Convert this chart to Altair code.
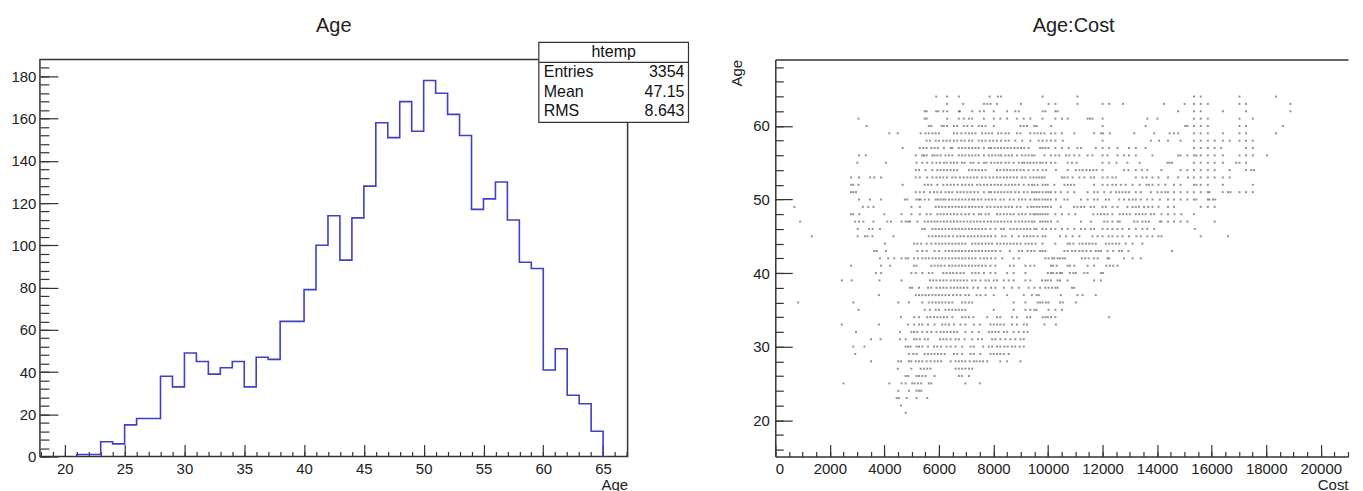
import altair as alt
import pandas as pd

FONT = "Liberation Sans"
TXT = "#222222"
FRAME = "#333333"
LINE = "#3f3fc8"

# ---------------- Histogram of Age ----------------
hist_age = [21, 22, 23, 24, 25, 26, 27, 28, 29, 30, 31, 32, 33, 34, 35, 36, 37, 38, 39, 40, 41, 42,
            43, 44, 45, 46, 47, 48, 49, 50, 51, 52, 53, 54, 55, 56, 57, 58, 59, 60, 61, 62, 63, 64]
hist_count = [1, 1, 7, 6, 15, 18, 18, 38, 33, 49, 45, 39, 42, 45, 33, 47, 46, 64, 64, 79, 100, 114,
              93, 113, 128, 158, 151, 168, 154, 178, 172, 162, 152, 117, 122, 130, 112, 92, 89, 41, 51, 29, 25, 12]
hist_last_edge = 65

stat_title = "htemp"
stat_labels = ["Entries", "Mean", "RMS"]
stat_values = ["3354", "47.15", "8.643"]

hx_major = [20, 25, 30, 35, 40, 45, 50, 55, 60, 65]
hx_minor = list(range(18, 68))
hy_major = [0, 20, 40, 60, 80, 100, 120, 140, 160, 180]
hy_minor = list(range(0, 188, 4))

# ---------------- Scatter Age:Cost ----------------
age64 = [5900, 6300, 6730, 7860, 8160, 8280, 9800, 11080, 15350, 15600, 17020, 18360]
age63 = [6300, 6890, 7650, 7770, 7890, 8130, 9010, 10020, 10270, 11080, 12000, 12240, 12750,
         14250, 15010, 15350, 15600, 15860, 17020, 17260, 18890]
age62 = [5480, 5550, 5900, 5980, 6160, 6300, 6730, 6770, 7220, 7500, 7650, 8010, 8500, 8800, 8930,
         9800, 9900, 10270, 10350, 14770, 15350, 15600, 16410, 17260, 18890]
age61 = [3050, 5480, 5550, 6300, 6730, 6910, 7100, 7220, 7650, 8010, 8250, 8500, 8860, 9110, 9350,
         9800, 10270, 10510, 10720, 11450, 11540, 11630, 12000, 13640, 14010, 15350, 15600, 15860, 17020, 17510]
age60 = [3350, 5630, 5720, 6100, 6180, 6300, 6550, 6670, 6910, 7040, 7220, 7460, 7580, 7710, 8010, 8990,
         9110, 9230, 9500, 9580, 10110, 12000, 13580, 15030, 15110, 15350, 15600, 15860, 17020, 17260, 18610]
age59 = [4180, 4490, 5330, 5510, 5630, 5760, 5880, 6000, 6550, 6670, 6820, 6970, 7100, 7220, 7340, 7580,
         7710, 7830, 7950, 8170, 8290, 8440, 8560, 8860, 8990, 9350, 9500, 9620, 9740, 9870, 10110, 10270,
         10510, 10960, 11690, 11940, 12020, 12270, 13160, 13890, 14460, 14620, 14770, 15350, 15600, 15860,
         16410, 17020, 17260, 18360]
age58 = [5550, 5670, 5880, 6000, 6160, 6280, 6400, 6550, 6670, 6820, 6940, 7100, 7220, 7460, 7580, 7710,
         7860, 7990, 8130, 8280, 8440, 8560, 8800, 9050, 9350, 9660, 9800, 9950, 10110, 10270, 10540, 12000,
         13770, 14070, 14400, 14860, 15350, 15600, 15860, 16110, 16410, 16660, 17020, 17260, 17510]
age57 = [4670, 5300, 5430, 5550, 5720, 5840, 5960, 6180, 6430, 6490, 6730, 6850, 6970, 7100, 7220, 7340,
         7460, 7650, 7830, 7910, 8040, 8160, 8280, 8400, 8520, 8640, 8770, 8890, 9010, 9130, 9290, 9710,
         9800, 9900, 10020, 10270, 10510, 10760, 11080, 11210, 11750, 12000, 12240, 12550, 12970, 13220,
         13580, 15350, 15600, 15860, 16110, 16350, 17260, 17510]
age56 = [3070, 3320, 5150, 5390, 5450, 5550, 5760, 5840, 5940, 6060, 6240, 6370, 6490, 6730, 6850, 6970,
         7100, 7220, 7340, 7460, 7650, 7830, 7950, 8070, 8190, 8280, 8440, 8560, 8680, 8860, 9050, 9170,
         9290, 9410, 9500, 9870, 10110, 10270, 10410, 10660, 10780, 10960, 11150, 11450, 11630, 12000,
         12180, 12550, 12790, 12970, 13220, 13830, 14770, 14860, 15110, 15350, 15440, 15600, 15860, 16110,
         16410, 17020, 17260, 17510, 18030]
age55 = [3010, 4060, 5180, 5390, 5570, 5760, 5910, 6040, 6180, 6280, 6430, 6550, 6670, 6850, 6940, 7160,
         7260, 7460, 7650, 7740, 7910, 8040, 8160, 8280, 8440, 8560, 8740, 8930, 9050, 9130, 9250, 9350,
         9470, 9580, 9710, 9800, 9930, 10110, 10270, 10720, 10880, 11050, 12000, 12240, 12510, 12910,
         13360, 14380, 14460, 14550, 15350, 15600, 15860, 16110, 16410, 16900, 17020, 17260]
age54 = [5150, 5270, 5510, 5760, 5940, 6060, 6180, 6300, 6430, 6550, 6670, 7100, 7220, 7340, 7460, 7580,
         7710, 8130, 8250, 8380, 8500, 8620, 8740, 8860, 8990, 9110, 9290, 9470, 9620, 9800, 9930, 10290,
         10720, 11020, 11150, 11270, 11410, 11540, 11660, 11780, 12000, 12790, 12950, 13220, 13440, 13640,
         14160, 14860, 15110, 15350, 15600, 15860, 16110, 16660, 17260, 17450, 17550]
age53 = [2780, 3070, 3470, 3630, 3880, 5150, 5300, 5570, 5760, 5910, 6040, 6160, 6300, 6490, 6610, 6770,
         6910, 7040, 7160, 7280, 7400, 7580, 7710, 7860, 7990, 8130, 8250, 8380, 8500, 8620, 8740, 8860,
         9050, 9170, 9350, 9470, 9580, 9680, 9780, 9870, 10510, 10600, 10720, 10900, 11150, 11330, 11570,
         11690, 12000, 12180, 12360, 12490, 13220, 13460, 13610, 13830, 14050, 14400, 14770, 15130, 15350,
         15600, 15860, 16110, 16410, 16660]
age52 = [2780, 2860, 3050, 4670, 5480, 5600, 5720, 5940, 6160, 6300, 6430, 6550, 6690, 6850, 6970, 7100,
         7220, 7400, 7520, 7650, 7770, 7910, 8040, 8160, 8280, 8440, 8560, 8680, 8800, 8930, 9110, 9290,
         9410, 9500, 9620, 9800, 9900, 9990, 10230, 10600, 10720, 10840, 10960, 11690, 12000, 12180, 12360,
         12490, 12670, 12850, 13100, 13360, 13610, 13700, 13830, 14050, 14300, 14620, 14860, 15350, 15440,
         15600, 15860, 16410, 17510]
age51 = [2780, 2860, 2960, 5150, 5300, 5450, 5670, 5820, 5940, 6080, 6240, 6370, 6490, 6670, 6790, 6910,
         7040, 7160, 7300, 7430, 7650, 7830, 7910, 8040, 8160, 8280, 8400, 8520, 8640, 8800, 8930, 9110,
         9250, 9410, 9500, 9580, 9680, 9800, 9930, 10020, 10110, 10270, 10470, 10720, 10960, 11450, 11690,
         11820, 12060, 12300, 12490, 12610, 12730, 12850, 12970, 13220, 13400, 13770, 14010, 14160, 14300,
         14400, 14620, 14860, 15110, 15350, 15600, 15860, 15920, 16410, 16600, 16690, 17020, 17260, 17510]
age50 = [3070, 3470, 3880, 4750, 4840, 5180, 5270, 5330, 5480, 5630, 5880, 5960, 6060, 6160, 6240, 6370,
         6490, 6610, 6730, 6850, 6970, 7100, 7220, 7300, 7430, 7550, 7710, 7830, 7950, 8070, 8250, 8380,
         8600, 8740, 8930, 9050, 9170, 9350, 9500, 9580, 9680, 9800, 9900, 9990, 10110, 10290, 10600, 10720,
         11210, 11450, 11690, 11820, 12120, 12240, 12610, 12790, 12970, 13100, 13220, 13400, 13640, 13830,
         14100, 14400, 14620, 14860, 15110, 15350, 15440, 15860, 15920, 16050, 16130]
age49 = [700, 3210, 3410, 3600, 4990, 5300, 5880, 6000, 6120, 6240, 6370, 6490, 6610, 6730, 6850, 6970,
         7100, 7220, 7340, 7460, 7580, 7770, 7890, 8040, 8160, 8280, 8440, 8560, 8680, 8860, 8990, 9250,
         9380, 9470, 9580, 9680, 9800, 9900, 9990, 10110, 10470, 10960, 11080, 11210, 11330, 11570, 11690,
         12000, 12120, 12360, 12550, 12910, 13100, 13220, 13340, 13520, 13680, 13830, 14050, 14400, 14620,
         15600, 15860, 16110]
age48 = [2780, 2860, 3080, 4000, 4630, 4990, 5300, 5550, 5690, 5940, 6060, 6180, 6300, 6430, 6550, 6670,
         6820, 6970, 7100, 7280, 7460, 7550, 7710, 7830, 8130, 8250, 8380, 8500, 8620, 8740, 8930, 9050,
         9170, 9350, 9470, 9540, 9620, 9710, 9800, 9900, 9990, 10270, 10510, 10760, 11000, 11660, 11820,
         11940, 12060, 12180, 12360, 12630, 12750, 12880, 13000, 13220, 13340, 13460, 13580, 13770, 13890,
         14160, 14400, 14640, 14890, 15350]
age47 = [910, 2930, 3070, 3230, 3600, 4110, 4240, 4630, 4780, 4870, 4940, 5210, 5480, 5600, 5720, 5840,
         5940, 6060, 6180, 6300, 6430, 6550, 6670, 6790, 6910, 7040, 7160, 7280, 7400, 7520, 7650, 7790,
         7910, 8040, 8160, 8280, 8400, 8520, 8640, 8800, 8930, 9050, 9170, 9290, 9410, 9500, 9710, 9800,
         9900, 9990, 10110, 10350, 11210, 11570, 12060, 12180, 12360, 12550, 12630, 13160, 13280, 13460,
         13580, 13700, 14100, 14160, 14400, 14620, 14860, 15110, 16110]
age46 = [3020, 3440, 3570, 3840, 5390, 5480, 5760, 5880, 6000, 6120, 6240, 6370, 6490, 6610, 6730, 6850,
         6970, 7100, 7220, 7340, 7460, 7580, 7710, 7890, 8070, 8280, 8380, 8620, 8740, 8860, 8990, 9110,
         9230, 9350, 9500, 9580, 9800, 9930, 10110, 10270, 10510, 10720, 10960, 11210, 11360, 11570, 11690,
         12000, 12180, 12360, 12550, 12730, 12970, 13220, 13460, 13640, 13890, 15380]
age45 = [1340, 3020, 3290, 3380, 3560, 4330, 5630, 5760, 5880, 6000, 6120, 6240, 6370, 6520, 6670, 6790,
         6910, 7060, 7180, 7300, 7430, 7550, 7670, 7790, 7910, 8070, 8320, 8440, 8680, 8930, 9110, 9230,
         9350, 9470, 9620, 9800, 9900, 10440, 10660, 10900, 11150, 11630, 11820, 12000, 12220, 12360, 12550,
         12730, 12970, 13240, 13400, 13640, 13830, 14050, 14160, 15600, 16600]
age44 = [4020, 5090, 5210, 5350, 5550, 5720, 5880, 6000, 6120, 6240, 6370, 6490, 6610, 6730, 6850, 6970,
         7220, 7340, 7460, 7580, 7710, 7830, 7950, 8130, 8250, 8380, 8500, 8620, 8740, 8860, 8990, 9170,
         9290, 9410, 9540, 9800, 10270, 10720, 10800, 10930, 11150, 11270, 11390, 11510, 11630, 11750,
         12120, 12240, 12360, 12490, 12610, 12850, 13100, 13460]
age43 = [3630, 3720, 4060, 5210, 5390, 5550, 5840, 6000, 6240, 6370, 6490, 6610, 6730, 6850, 6970, 7100,
         7220, 7340, 7460, 7580, 7710, 7830, 7950, 8070, 8250, 8600, 8930, 9050, 9250, 9380, 9500, 9710,
         9800, 9900, 10600, 10720, 10880, 11000, 11150, 11270, 11410, 11570, 11750, 11850, 11940, 12180,
         12390, 12610, 12710, 12950, 14550]
age42 = [3840, 4140, 4360, 4630, 4780, 4870, 5090, 5230, 5390, 5510, 5630, 5760, 5880, 6000, 6120, 6240,
         6370, 6490, 6610, 6730, 6850, 6970, 7100, 7220, 7340, 7520, 7650, 7770, 7910, 8070, 8320, 8740,
         8930, 9900, 10020, 10150, 10230, 10350, 10440, 10540, 10630, 11240, 11360, 11490, 11690, 11820,
         12180, 12240, 12790, 13100, 13400]
age41 = [2780, 3880, 4210, 5090, 5180, 5720, 5840, 5960, 6080, 6210, 6370, 6490, 6610, 6730, 6850, 6970,
         7100, 7220, 7340, 7460, 7580, 7710, 7890, 8070, 8600, 8740, 9170, 9350, 9500, 10110, 10190, 10320,
         10720, 10800, 10960, 11450, 11690, 12140, 12270, 12390, 12550]
age40 = [3690, 3880, 4990, 5150, 5390, 5630, 5760, 6160, 6280, 6400, 6520, 6650, 6790, 6910, 7220, 7340,
         7460, 7650, 7890, 8070, 8500, 8740, 9170, 9990, 10110, 10190, 10320, 10440, 10510, 10800, 10930,
         11020, 11330, 11450, 11940, 12020]
age39 = [2440, 2800, 3820, 4630, 5670, 5790, 5910, 6040, 6160, 6280, 6430, 6550, 6670, 6790, 6910, 7040,
         7220, 7340, 7520, 7710, 7830, 8010, 8130, 8380, 8560, 8740, 9170, 9350, 9780, 9900, 9990, 10110,
         10350, 10440, 10720, 11690, 11940]
age38 = [4940, 5020, 5270, 5600, 5720, 5910, 6040, 6160, 6280, 6430, 6550, 6670, 6790, 6910, 7040, 7260,
         7430, 7710, 7910, 8070, 8380, 8680, 8930, 9290, 9500, 9710, 9900, 10020, 10150, 10270, 10350,
         10880, 10960]
age37 = [3800, 5150, 5270, 5390, 5510, 5630, 5760, 5880, 6000, 6120, 6240, 6370, 6520, 6650, 6790, 6970,
         7100, 7380, 7520, 7710, 8010, 8500, 9110, 9410, 9580, 9660, 10470, 11080, 11270, 11750]
age36 = [830, 2860, 4510, 4900, 5390, 5630, 5760, 5880, 6000, 6120, 6240, 6370, 6490, 6850, 6970, 7100,
         7220, 8740, 9170, 9620, 9710, 9800, 9930, 10020, 10440, 10540, 11020]
age35 = [3050, 5480, 5670, 5880, 6000, 6240, 6370, 6490, 6610, 6730, 6850, 6970, 8010, 8740, 9170, 9350,
         9500, 9580, 10020, 10270, 10510]
age34 = [4610, 5090, 5270, 5570, 5690, 5820, 5940, 6060, 6180, 6300, 6490, 6850, 6970, 7100, 7260, 7770,
         8130, 8250, 8680, 8860, 9230, 9350, 9800, 9900, 9990, 10110, 10270, 12240]
age33 = [2440, 3800, 4870, 5090, 5270, 5390, 5600, 5840, 6120, 6240, 6370, 6550, 6790, 6970, 7280, 7500,
         7890, 8010, 8130, 8250, 8380, 8680, 8860, 9110, 9230, 9870, 10290]
age32 = [2960, 4570, 4990, 5090, 5210, 5390, 5570, 5720, 5910, 6060, 6180, 6300, 6430, 6550, 6670, 6970,
         7220, 7460, 7830, 7950, 8070, 8190, 8380, 8500, 8740, 8930, 9110, 9250]
age31 = [3510, 3860, 4570, 4780, 5090, 5180, 5300, 5480, 5600, 6040, 6160, 6280, 6430, 6610, 6730, 6940,
         7220, 7430, 7580, 7950, 8070, 8250, 8440, 8620, 8800, 8990, 9110]
age30 = [2860, 3270, 4780, 4870, 4960, 5180, 5270, 5390, 5600, 5820, 5940, 6080, 6280, 6430, 6610, 6850,
         7160, 7280, 7620, 7830, 7950, 8130, 8250, 8400, 8520, 8680, 8800, 8960, 9110]
age29 = [2930, 4900, 5060, 5180, 5480, 5600, 5720, 5840, 5960, 6080, 6210, 6550, 6670, 6850, 7160, 7280,
         7520, 7890, 8010, 8130, 8250, 8380, 8560]
age28 = [3510, 4510, 4610, 4900, 4990, 5150, 5270, 5390, 5550, 5690, 5840, 5960, 6080, 6430, 6610, 6730,
         6850, 6970, 7130, 7280, 7380, 7500, 7620, 7770, 8250, 8500, 8990]
age27 = [4490, 4990, 5330, 5450, 5570, 5690, 6610, 6730, 6850, 6970, 7100, 7220]
age26 = [4780, 4870, 5180, 5270, 5390, 5510, 5840, 6730, 6850, 7100]
age25 = [2500, 4180, 4630, 4780, 5020, 5110, 5230, 5350, 5630, 5720, 6970, 7500]
age24 = [4510, 4900, 5180, 5270, 5350]
age23 = [4450, 4530, 4820, 5180, 5570]
age22 = [4610]
age21 = [4780]

scatter_rows = [
    (64, age64), (63, age63), (62, age62), (61, age61), (60, age60), (59, age59), (58, age58),
    (57, age57), (56, age56), (55, age55), (54, age54), (53, age53), (52, age52), (51, age51),
    (50, age50), (49, age49), (48, age48), (47, age47), (46, age46), (45, age45), (44, age44),
    (43, age43), (42, age42), (41, age41), (40, age40), (39, age39), (38, age38), (37, age37),
    (36, age36), (35, age35), (34, age34), (33, age33), (32, age32), (31, age31), (30, age30),
    (29, age29), (28, age28), (27, age27), (26, age26), (25, age25), (24, age24), (23, age23),
    (22, age22), (21, age21),
]

sx_major = list(range(0, 20001, 2000))
sx_minor = list(range(0, 21001, 500))
sy_major = [20, 30, 40, 50, 60]
sy_minor = list(range(16, 69, 2))

# ---------------- tables ----------------
step_x = [hist_age[0]] + hist_age + [hist_last_edge]
step_y = [0] + hist_count + [0]
hist_df = pd.DataFrame({"Age": step_x, "Count": step_y, "order": list(range(len(step_x)))})

pts = [(c, a) for a, costs in scatter_rows for c in costs]
scat_df = pd.DataFrame(pts, columns=["Cost", "Age"])

# ---------------- left panel ----------------
hx_scale = alt.Scale(domain=[17.92, 67.05], nice=False, zero=False)
hy_scale = alt.Scale(domain=[0, 188], nice=False, zero=False)

lab_common = dict(labelFont=FONT, labelFontSize=15, labelColor=TXT, ticks=False, grid=False)


def tick_axis(orient, values, size):
    return alt.Axis(orient=orient, values=values, tickSize=size, offset=-size, labels=False,
                    domain=False, grid=False, title=None, tickColor=FRAME, tickWidth=1.2)


h_main = alt.Chart(hist_df).mark_line(interpolate="step-after", color=LINE, strokeWidth=1.6).encode(
    x=alt.X("Age:Q", scale=hx_scale,
            axis=alt.Axis(orient="bottom", values=hx_major, domain=False, labelPadding=5,
                          title="Age", titleFont=FONT, titleFontSize=15, titleFontWeight="normal",
                          titleColor=TXT, titleAnchor="end", titlePadding=1, **lab_common)),
    y=alt.Y("Count:Q", scale=hy_scale,
            axis=alt.Axis(orient="left", values=hy_major, domain=False, labelPadding=4, title=None,
                          **lab_common)),
    order="order:O",
)
h_major = alt.Chart(hist_df).mark_point(opacity=0).encode(
    x=alt.X("Age:Q", scale=hx_scale, axis=tick_axis("bottom", hx_major, 12)),
    y=alt.Y("Count:Q", scale=hy_scale, axis=tick_axis("left", hy_major, 18)),
)
h_minor = alt.Chart(hist_df).mark_point(opacity=0).encode(
    x=alt.X("Age:Q", scale=hx_scale, axis=tick_axis("bottom", hx_minor, 5)),
    y=alt.Y("Count:Q", scale=hy_scale, axis=tick_axis("left", hy_minor, 9)),
)

one = pd.DataFrame({"k": [0]})
box = alt.Chart(one).mark_rect(fill="white", stroke=FRAME, strokeWidth=1.2).encode(
    x=alt.value(500), x2=alt.value(650), y=alt.value(-17), y2=alt.value(63))
box_line = alt.Chart(one).mark_rule(color=FRAME, strokeWidth=1.2).encode(
    x=alt.value(500), x2=alt.value(650), y=alt.value(3))


def txt(s, x, y, align):
    return alt.Chart(one).mark_text(text=s, font=FONT, fontSize=16, color="#111111", align=align,
                                    baseline="alphabetic").encode(x=alt.value(x), y=alt.value(y))


stat_layers = [txt(stat_title, 575, -2, "center")]
for i, (lab, val) in enumerate(zip(stat_labels, stat_values)):
    yy = 18 + 19.5 * i
    stat_layers.append(txt(lab, 505, yy, "left"))
    stat_layers.append(txt(val, 646, yy, "right"))

left = alt.layer(h_main, h_major, h_minor, box, box_line, *stat_layers).resolve_axis(
    x="independent", y="independent"
).properties(
    width=589, height=398,
    title=alt.TitleParams("Age", font=FONT, fontSize=20, fontWeight="normal", color=TXT,
                          anchor="middle", offset=7, dy=17, baseline="alphabetic"),
    view=alt.ViewBackground(stroke=FRAME, strokeWidth=1.5),
)

# ---------------- right panel ----------------
sx_scale = alt.Scale(domain=[0, 21000], nice=False, zero=False)
sy_scale = alt.Scale(domain=[15.05, 69.05], nice=False, zero=False)

s_main = alt.Chart(scat_df).mark_square(size=4, color="#4a4a4a", opacity=0.6).encode(
    x=alt.X("Cost:Q", scale=sx_scale,
            axis=alt.Axis(orient="bottom", values=sx_major, format="d", domain=True, domainColor=FRAME,
                          domainWidth=1.5, labelPadding=5, title="Cost", titleFont=FONT,
                          titleFontSize=15, titleFontWeight="normal", titleColor=TXT,
                          titleAnchor="end", titlePadding=1, **lab_common)),
    y=alt.Y("Age:Q", scale=sy_scale,
            axis=alt.Axis(orient="left", values=sy_major, domain=True, domainColor=FRAME,
                          domainWidth=1.5, labelPadding=6, title="Age", titleFont=FONT,
                          titleFontSize=15, titleFontWeight="normal", titleColor=TXT,
                          titleAnchor="end", titlePadding=8, **lab_common)),
)
s_major = alt.Chart(scat_df).mark_point(opacity=0).encode(
    x=alt.X("Cost:Q", scale=sx_scale, axis=tick_axis("bottom", sx_major, 12)),
    y=alt.Y("Age:Q", scale=sy_scale, axis=tick_axis("left", sy_major, 17)),
)
s_minor = alt.Chart(scat_df).mark_point(opacity=0).encode(
    x=alt.X("Cost:Q", scale=sx_scale, axis=tick_axis("bottom", sx_minor, 5)),
    y=alt.Y("Age:Q", scale=sy_scale, axis=tick_axis("left", sy_minor, 8)),
)
s_top = alt.Chart(scat_df).mark_point(opacity=0).encode(
    x=alt.X("Cost:Q", scale=sx_scale,
            axis=alt.Axis(orient="top", domain=True, domainColor=FRAME, domainWidth=1.5, ticks=False,
                          labels=False, grid=False, title=None)),
)

right = alt.layer(s_main, s_major, s_minor, s_top).resolve_axis(
    x="independent", y="independent"
).properties(
    width=574, height=398,
    title=alt.TitleParams("Age:Cost", font=FONT, fontSize=20, fontWeight="normal", color=TXT,
                          anchor="middle", offset=7, baseline="alphabetic", dx=12),
    view=alt.ViewBackground(stroke="transparent"),
)

chart = alt.hconcat(left, right, spacing=148, bounds="flush").properties(
    padding={"left": 2, "top": 6, "right": 5, "bottom": 0},
    background="white",
).configure_view(stroke=FRAME)

chart.save("out.html", embed_options={"renderer": "svg", "actions": False})
